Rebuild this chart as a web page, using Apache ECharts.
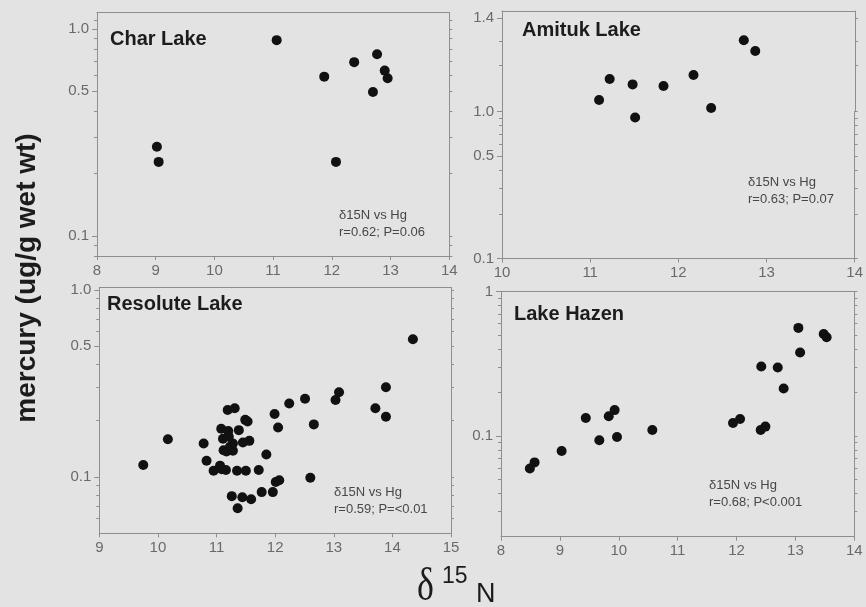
<!DOCTYPE html>
<html>
<head>
<meta charset="utf-8">
<script src="https://cdn.jsdelivr.net/npm/echarts@6/dist/echarts.min.js"></script>
<style>
  html, body { margin: 0; padding: 0; background: #e3e3e3; }
  #chart { width: 866px; height: 607px; }
</style>
</head>
<body>
<div id="chart"></div>
<script>
// Arctic char muscle: stable nitrogen isotope ratio (δ15N) vs total mercury (ug/g wet wt)

// Char Lake
const charN  = [11.06, 9.02, 9.05, 11.87, 12.07, 12.38, 12.77, 12.70, 12.90, 12.95];
const charHg = [0.884, 0.270, 0.228, 0.589, 0.228, 0.692, 0.756, 0.496, 0.630, 0.578];

// Amituk Lake
const amitukN  = [11.10, 11.22, 11.48, 11.51, 11.83, 12.17, 12.37, 12.74, 12.87];
const amitukHg = [1.049, 1.139, 1.116, 0.910, 1.109, 1.156, 1.015, 1.305, 1.259];

// Resolute Lake
const resoluteN = [
  9.75, 10.17, 10.78, 10.83, 10.95, 11.06, 11.09, 11.16, 11.19, 11.31,
  11.08, 11.20, 11.38, 11.11, 11.21, 11.28, 11.45, 11.56, 11.49, 11.53,
  11.12, 11.17, 11.28, 11.23, 11.35, 11.50, 11.72, 11.85, 11.26, 11.44,
  11.59, 11.36, 11.77, 11.96, 12.01, 12.07, 11.99, 12.05, 12.24, 12.51,
  12.66, 12.60, 13.03, 13.09, 13.71, 13.89, 13.89, 14.35
];
const resoluteHg = [
  0.116, 0.159, 0.151, 0.122, 0.108, 0.115, 0.110, 0.109, 0.228, 0.233,
  0.181, 0.176, 0.178, 0.160, 0.164, 0.151, 0.153, 0.156, 0.202, 0.198,
  0.139, 0.137, 0.138, 0.145, 0.108, 0.108, 0.109, 0.132, 0.079, 0.078,
  0.076, 0.068, 0.083, 0.083, 0.094, 0.096, 0.217, 0.184, 0.247, 0.262,
  0.191, 0.099, 0.258, 0.284, 0.233, 0.302, 0.210, 0.545
];

// Lake Hazen
const hazenN  = [8.49, 8.57, 9.03, 9.44, 9.67, 9.83, 9.93, 9.97, 10.57, 11.94,
                 12.06, 12.41, 12.49, 12.42, 12.70, 12.80, 13.05, 13.08, 13.48, 13.53];
const hazenHg = [0.0595, 0.0655, 0.0785, 0.133, 0.0933, 0.137, 0.151, 0.0984, 0.110, 0.123,
                 0.131, 0.110, 0.116, 0.303, 0.298, 0.213, 0.561, 0.379, 0.509, 0.483];

// Panel titles and correlation notes
const lakeNames = ['Char Lake', 'Amituk Lake', 'Resolute Lake', 'Lake Hazen'];
const statNotes = [
  ['\u03b415N vs Hg', 'r=0.62; P=0.06'],
  ['\u03b415N vs Hg', 'r=0.63; P=0.07'],
  ['\u03b415N vs Hg', 'r=0.59; P=<0.01'],
  ['\u03b415N vs Hg', 'r=0.68; P<0.001']
];

// Tick values and labels
const charYMajor = [0.1, 0.5, 1.0];
const charYLabels = ['0.1', '0.5', '1.0'];
const charYMinor = [0.08, 0.09, 0.2, 0.3, 0.4, 0.6, 0.7, 0.8, 0.9, 1.1];

const amitukUpperMajor = [1.4];
const amitukUpperLabels = ['1.4'];
const amitukUpperMinor = [1.2, 1.3];
const amitukLowerMajor = [0.1, 0.5, 1.0];
const amitukLowerLabels = ['0.1', '0.5', '1.0'];
const amitukLowerMinor = [0.2, 0.3, 0.4, 0.6, 0.7, 0.8, 0.9];

const resoluteYMajor = [0.1, 0.5, 1.0];
const resoluteYLabels = ['0.1', '0.5', '1.0'];
const resoluteYMinor = [0.06, 0.07, 0.08, 0.09, 0.2, 0.3, 0.4, 0.6, 0.7, 0.8, 0.9];

const hazenYMajor = [0.1, 1];
const hazenYLabels = ['0.1', '1'];
const hazenYMinor = [0.03, 0.04, 0.05, 0.06, 0.07, 0.08, 0.09, 0.2, 0.3, 0.4, 0.5, 0.6, 0.7, 0.8, 0.9];

const AXIS = '#8e8e8e';
const LABEL = '#6a6a6a';
const DOT = '#111111';
const FONT = '"Liberation Sans", Arial, sans-serif';

const option = {
  backgroundColor: '#e3e3e3',
  animation: false,
  grid: [], xAxis: [], yAxis: [], series: [], graphic: []
};

function addGrid(left, top, width, height) {
  option.grid.push({ left, top, width, height, show: false });
  return option.grid.length - 1;
}

// bottom axis carries ticks and labels, top axis only closes the frame
function addX(g, min, max, withBottom, withTop) {
  const base = {
    gridIndex: g, type: 'value', min, max, interval: 1,
    splitLine: { show: false },
    axisLine: { show: true, onZero: false, lineStyle: { color: AXIS, width: 1 } }
  };
  let first = -1;
  if (withBottom) {
    option.xAxis.push(Object.assign({}, base, {
      position: 'bottom',
      axisTick: { show: true, length: 4, lineStyle: { color: AXIS } },
      axisLabel: { show: true, margin: 7, color: LABEL, fontSize: 15, fontFamily: FONT }
    }));
    first = option.xAxis.length - 1;
  }
  if (withTop) {
    option.xAxis.push(Object.assign({}, base, {
      position: 'top', axisTick: { show: false }, axisLabel: { show: false }
    }));
    if (first < 0) first = option.xAxis.length - 1;
  }
  return first;
}

function pickLabel(values, labels) {
  return function (v) {
    for (let i = 0; i < values.length; i++) {
      if (Math.abs(values[i] - v) <= values[i] * 1e-6) return labels[i];
    }
    return '';
  };
}

// left axis: line, major ticks and labels; second left axis: short minor ticks;
// right axis: line with short ticks at every value
function addY(g, type, min, max, major, labels, minor) {
  const base = {
    gridIndex: g, type, min, max,
    splitLine: { show: false },
    axisLabel: { show: false },
    axisTick: { show: false },
    axisLine: { show: false, onZero: false, lineStyle: { color: AXIS, width: 1 } }
  };
  if (type === 'log') base.logBase = 10;
  option.yAxis.push(Object.assign({}, base, {
    position: 'left',
    axisLine: { show: true, onZero: false, lineStyle: { color: AXIS, width: 1 } },
    axisTick: { show: true, length: 5, customValues: major, lineStyle: { color: AXIS } },
    axisLabel: {
      show: true, customValues: major, margin: 8, color: LABEL, fontSize: 15, fontFamily: FONT,
      formatter: pickLabel(major, labels)
    }
  }));
  const idx = option.yAxis.length - 1;
  option.yAxis.push(Object.assign({}, base, {
    position: 'left',
    axisTick: { show: true, length: 3, customValues: minor, lineStyle: { color: AXIS } }
  }));
  option.yAxis.push(Object.assign({}, base, {
    position: 'right',
    axisLine: { show: true, onZero: false, lineStyle: { color: AXIS, width: 1 } },
    axisTick: { show: true, length: 3, customValues: major.concat(minor), lineStyle: { color: AXIS } }
  }));
  return idx;
}

function addScatter(xi, yi, xs, ys) {
  option.series.push({
    type: 'scatter', xAxisIndex: xi, yAxisIndex: yi, silent: true,
    symbolSize: 10, itemStyle: { color: DOT, opacity: 1 },
    data: xs.map((x, i) => [x, ys[i]])
  });
}

function addText(x, y, text, font, fill, extra) {
  option.graphic.push(Object.assign({
    type: 'text', x, y, silent: true,
    style: { text, font, fill, align: 'left', verticalAlign: 'middle' }
  }, extra || {}));
}

// Char Lake
{
  const g = addGrid(97, 12.7, 352.3, 243.3);
  const xi = addX(g, 8, 14, true, true);
  const yi = addY(g, 'log', 0.08, 1.2, charYMajor, charYLabels, charYMinor);
  addScatter(xi, yi, charN, charHg);
}

// Amituk Lake: broken axis, linear above 1.0, log below
{
  const gu = addGrid(502, 11, 353, 100.5);
  const gl = addGrid(502, 111.5, 353, 147);
  const xu = addX(gu, 10, 14, false, true);
  const xl = addX(gl, 10, 14, true, false);
  const yu = addY(gu, 'value', 1.0, 1.43, amitukUpperMajor, amitukUpperLabels, amitukUpperMinor);
  const yl = addY(gl, 'log', 0.1, 1.0, amitukLowerMajor, amitukLowerLabels, amitukLowerMinor);
  const upN = [], upHg = [], loN = [], loHg = [];
  amitukN.forEach((n, i) => {
    if (amitukHg[i] >= 1.0) { upN.push(n); upHg.push(amitukHg[i]); }
    else { loN.push(n); loHg.push(amitukHg[i]); }
  });
  addScatter(xu, yu, upN, upHg);
  addScatter(xl, yl, loN, loHg);
}

// Resolute Lake
{
  const g = addGrid(99.3, 287.5, 351.7, 245.8);
  const xi = addX(g, 9, 15, true, true);
  const yi = addY(g, 'log', 0.05, 1.03, resoluteYMajor, resoluteYLabels, resoluteYMinor);
  addScatter(xi, yi, resoluteN, resoluteHg);
}

// Lake Hazen
{
  const g = addGrid(501, 291.7, 353.3, 245);
  const xi = addX(g, 8, 14, true, true);
  const yi = addY(g, 'log', 0.02, 1, hazenYMajor, hazenYLabels, hazenYMinor);
  addScatter(xi, yi, hazenN, hazenHg);
}

// panel titles
const titleFont = 'bold 20px ' + FONT;
const titlePos = [[110, 39], [522, 30], [107, 304], [514, 314]];
lakeNames.forEach((name, i) => addText(titlePos[i][0], titlePos[i][1], name, titleFont, '#1c1c1c'));

// correlation notes
const noteFont = '13px ' + FONT;
const notePos = [[339, 215], [748, 182], [334, 492], [709, 485]];
statNotes.forEach((lines, i) => {
  addText(notePos[i][0], notePos[i][1], lines[0], noteFont, '#474747');
  addText(notePos[i][0], notePos[i][1] + 17, lines[1], noteFont, '#474747');
});

// shared axis titles
addText(27, 278, 'mercury (ug/g wet wt)', 'bold 28px ' + FONT, '#1c1c1c', {
  rotation: Math.PI / 2,
  style: { text: 'mercury (ug/g wet wt)', font: 'bold 28px ' + FONT, fill: '#1c1c1c', align: 'center', verticalAlign: 'middle' }
});
addText(417, 588, '\u03b4', '46px "Liberation Serif", "Times New Roman", serif', '#1c1c1c', { scaleX: 0.78 });
addText(442, 577, '15', '23px ' + FONT, '#1c1c1c');
addText(476, 595, 'N', '27px ' + FONT, '#1c1c1c');

const chart = echarts.init(document.getElementById('chart'), null, { renderer: 'canvas' });
chart.setOption(option);
</script>
</body>
</html>
